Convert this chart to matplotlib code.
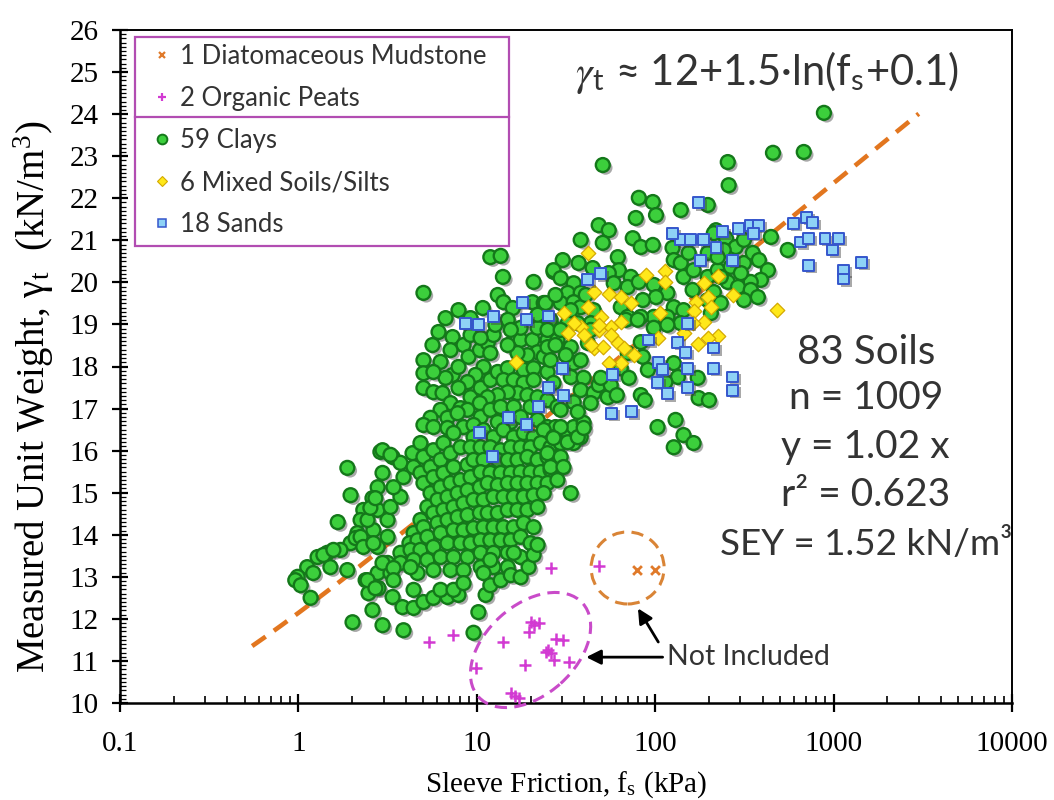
import numpy as np
import matplotlib
matplotlib.use("Agg")
import matplotlib.pyplot as plt
import matplotlib.patheffects as pe
from matplotlib.patches import Ellipse, Rectangle
from matplotlib.lines import Line2D
from matplotlib.ticker import FixedLocator, LogLocator, MultipleLocator, NullFormatter, FixedFormatter
from matplotlib.transforms import ScaledTranslation

plt.rcParams["mathtext.fontset"] = "stix"
SANS = ["Lato", "DejaVu Sans"]
SERIF = ["Liberation Serif", "DejaVu Serif"]

# ---- data: sleeve friction fs (kPa), unit weight (kN/m3)
clay_fs = [
    11.9, 13.6, 14.0, 20.8, 26.9, 5.02, 13.1, 14.1, 15.9, 20.5,
    23.7, 6.10, 7.31, 8.42, 5.02, 5.02, 5.02, 5.71, 6.42, 7.31,
    7.89, 8.98, 10.4, 11.5, 12.4, 11.9, 10.9, 9.83, 8.87, 7.89,
    7.12, 6.26, 5.50, 5.02, 6.85, 8.10, 9.22, 10.5, 11.9, 13.1,
    14.9, 14.1, 16.1, 17.6, 17.6, 20.5, 21.9, 19.2, 16.9, 18.3,
    20.8, 23.7, 24.9, 26.9, 21.9, 24.9, 18.3, 20.8, 16.9, 19.2,
    14.9, 13.1, 11.5, 10.4, 8.87, 7.80, 10.5, 11.9, 13.6, 16.1,
    20.0, 21.9, 24.9, 26.9, 5.71, 6.85, 8.42, 9.58, 13.1, 15.5,
    17.6, 21.9, 24.9, 28.3, 27.6, 1.88, 1.96, 1.66, 2.88, 3.37,
    2.96, 2.78, 2.60, 2.31, 2.23, 2.14, 1.96, 1.72, 1.45, 1.28,
    1.12, 0.99, 1.21, 1.51, 1.88, 2.78, 3.16, 2.63, 3.16, 2.78,
    3.28, 3.73, 3.41, 3.88, 3.73, 4.36, 4.83, 4.42, 5.02, 5.71,
    6.50, 7.40, 9.58, 10.9, 12.4, 14.1, 16.1, 18.3, 20.8, 23.7,
    26.9, 30.6, 34.9, 39.7, 38.2, 34.9, 4.83, 5.50, 6.26, 7.12,
    8.10, 9.22, 10.5, 11.9, 13.6, 15.5, 17.6, 20.0, 22.8, 25.9,
    29.5, 5.02, 5.71, 6.50, 7.40, 8.87, 9.58, 10.9, 13.1, 14.9,
    16.9, 19.2, 21.9, 24.9, 28.3, 5.50, 6.26, 7.12, 8.10, 9.22,
    10.5, 11.9, 13.6, 15.5, 17.6, 20.0, 22.8, 25.9, 29.5, 5.28,
    6.02, 6.85, 7.80, 8.87, 10.4, 11.5, 13.1, 14.9, 16.9, 19.2,
    21.9, 24.9, 28.3, 33.6, 4.83, 5.71, 6.50, 7.40, 8.42, 9.58,
    10.9, 12.4, 14.1, 16.1, 18.3, 20.8, 23.7, 4.42, 5.02, 6.02,
    6.85, 7.80, 8.87, 10.4, 11.5, 13.1, 14.9, 16.9, 19.2, 21.9,
    4.19, 4.65, 5.28, 6.26, 7.40, 8.42, 9.58, 10.9, 12.4, 14.1,
    16.1, 18.3, 20.8, 3.73, 4.25, 4.83, 5.71, 6.85, 8.10, 9.22,
    10.5, 11.9, 13.6, 15.5, 17.6, 20.0, 3.16, 3.73, 4.42, 5.28,
    6.26, 7.40, 8.87, 10.5, 12.4, 14.9, 17.6, 2.78, 3.28, 4.65,
    5.71, 7.12, 8.42, 10.5, 12.4, 14.9, 1.38, 2.09, 0.96, 1.03,
    1.17, 2.01, 2.60, 2.96, 3.88, 2.38, 2.47, 2.81, 3.37, 3.83,
    4.42, 5.02, 5.71, 6.85, 7.89, 9.58, 10.2, 11.2, 11.9, 13.6,
    15.5, 17.6, 16.1, 19.5, 20.8, 21.9, 11.9, 6.26, 7.40, 8.42,
    10.9, 4.42, 1.57, 2.23, 2.44, 2.53, 2.70, 2.96, 3.28, 2.31,
    2.63, 2.96, 3.41, 2.44, 2.70, 3.41, 4.25, 50.8, 80.9, 96.9,
    101, 77.8, 139, 48.2, 54.9, 74.8, 50.8, 38.2, 83.0, 96.9,
    61.7, 125, 127, 30.3, 26.9, 37.2, 44.6, 62.5, 72.9, 54.9,
    29.5, 34.9, 32.3, 38.2, 24.3, 29.5, 34.9, 58.5, 70.1, 80.9,
    98.1, 117, 139, 154, 144, 164, 197, 224, 219, 197,
    162, 101, 85.2, 64.1, 45.2, 38.2, 127, 144, 117, 98.1,
    83.0, 70.1, 25.9, 32.3, 43.5, 139, 24.9, 28.3, 24.9, 33.6,
    25.9, 34.9, 33.6, 39.7, 38.2, 45.2, 54.2, 48.2, 56.3, 34.9,
    29.5, 36.8, 43.5, 64.1, 71.1, 70.1, 85.2, 83.0, 98.1, 117,
    127, 134, 114, 173, 175, 200, 103, 130, 144, 164,
    127, 29.5, 26.9, 32.3, 36.8, 39.7, 24.9, 29.5, 25.9, 30.6,
    68.4, 79.8, 43.5, 41.9, 29.5, 36.8, 882, 457, 680, 255,
    258, 445, 553, 213, 249, 283, 314, 242, 197, 224,
    265, 314, 352, 381, 428, 391, 343, 302, 255, 291,
    343, 376, 213, 197, 233, 314, 205, 233,
    6.68, 7.89, 9.22, 10.8, 14.9, 21.9, 7.12, 6.26, 6.68, 5.71,
    9.22, 10.5, 14.9, 15.5, 12.7, 5.64, 27.6, 33.6, 40.8, 27.6,
    31.5, 38.2, 49.5, 60.9, 83.0, 90.9, 87.4,
]
clay_gamma = [
    20.60, 20.63, 20.13, 20.01, 20.25, 19.75, 19.70, 19.53, 19.39, 19.53,
    19.51, 18.82, 18.70, 18.51, 18.15, 17.84, 17.49, 17.39, 17.37, 17.80,
    17.99, 18.23, 18.39, 18.56, 18.75, 18.32, 17.99, 17.80, 17.63, 17.49,
    17.13, 16.97, 16.78, 16.61, 16.78, 17.01, 17.27, 17.49, 17.68, 17.87,
    17.96, 17.68, 17.68, 18.63, 18.92, 18.63, 18.34, 18.27, 18.32, 17.92,
    17.96, 18.23, 18.63, 18.92, 18.92, 17.87, 17.61, 17.68, 17.37, 17.32,
    17.39, 17.32, 17.27, 17.13, 16.97, 16.89, 16.80, 16.97, 17.04, 17.04,
    17.04, 17.27, 17.20, 17.61, 16.56, 16.54, 16.56, 16.61, 16.68, 16.68,
    16.80, 16.73, 16.56, 17.04, 16.56, 15.59, 14.94, 14.30, 15.97, 15.85,
    15.47, 15.13, 14.87, 14.59, 14.35, 14.04, 13.80, 13.64, 13.57, 13.47,
    13.23, 13.00, 13.09, 13.23, 13.16, 13.71, 13.95, 14.11, 14.35, 14.59,
    14.66, 14.90, 15.13, 15.37, 15.71, 15.94, 16.18, 15.61, 15.85, 16.01,
    16.18, 16.42, 16.32, 16.49, 16.32, 16.49, 16.32, 16.42, 16.32, 16.49,
    16.32, 16.42, 16.56, 16.66, 16.32, 16.18, 15.47, 15.61, 15.78, 15.94,
    16.08, 16.08, 16.08, 16.08, 16.01, 16.08, 16.08, 16.08, 16.18, 16.08,
    16.18, 15.23, 15.37, 15.47, 15.61, 15.66, 15.78, 15.78, 15.78, 15.78,
    15.78, 15.85, 15.78, 15.85, 15.85, 14.99, 15.13, 15.23, 15.30, 15.37,
    15.49, 15.47, 15.47, 15.47, 15.49, 15.49, 15.49, 15.54, 15.61, 14.66,
    14.83, 14.90, 14.99, 15.06, 15.13, 15.23, 15.18, 15.23, 15.23, 15.23,
    15.23, 15.23, 15.30, 14.99, 14.35, 14.52, 14.59, 14.66, 14.75, 14.83,
    14.83, 14.90, 14.90, 14.90, 14.90, 14.94, 14.99, 14.04, 14.18, 14.28,
    14.35, 14.42, 14.47, 14.52, 14.52, 14.52, 14.59, 14.59, 14.59, 14.66,
    13.80, 13.87, 13.95, 14.04, 14.11, 14.11, 14.16, 14.18, 14.18, 14.18,
    14.18, 14.28, 14.18, 13.57, 13.64, 13.64, 13.71, 13.80, 13.80, 13.80,
    13.87, 13.87, 13.87, 13.87, 13.95, 13.80, 13.33, 13.33, 13.40, 13.40,
    13.47, 13.47, 13.47, 13.57, 13.57, 13.57, 13.47, 13.09, 13.09, 13.09,
    13.16, 13.16, 13.16, 13.23, 13.23, 13.23, 13.52, 13.92, 12.92, 12.80,
    12.50, 11.92, 12.21, 11.85, 11.73, 12.92, 12.61, 12.73, 12.52, 12.28,
    12.26, 12.40, 12.50, 12.52, 12.57, 11.67, 12.16, 12.57, 12.80, 12.92,
    13.04, 12.99, 13.57, 13.23, 13.52, 13.76, 13.40, 12.69, 12.69, 12.85,
    13.09, 12.69, 13.64, 13.95, 14.35, 14.64, 14.87, 16.01, 15.90, 13.71,
    13.80, 13.33, 13.21, 12.92, 12.73, 12.92, 13.23, 22.79, 22.01, 21.91,
    21.60, 21.53, 21.72, 21.36, 21.24, 21.05, 20.94, 21.01, 20.84, 20.89,
    20.60, 20.82, 20.53, 20.53, 20.29, 20.46, 20.34, 20.29, 20.13, 20.22,
    20.10, 19.98, 19.75, 19.75, 19.51, 19.51, 19.53, 19.98, 19.89, 20.01,
    19.94, 19.75, 20.46, 20.70, 20.13, 20.29, 20.13, 20.29, 21.24, 21.84,
    19.82, 19.65, 19.58, 19.41, 19.34, 19.41, 19.41, 19.34, 19.18, 19.18,
    19.18, 19.18, 19.11, 19.03, 19.03, 19.03, 18.87, 18.63, 18.46, 18.46,
    18.15, 18.08, 17.75, 17.73, 17.44, 17.37, 17.27, 17.56, 17.56, 17.15,
    16.97, 16.92, 17.13, 17.96, 17.73, 18.32, 18.23, 18.58, 18.92, 18.99,
    18.08, 17.75, 17.63, 17.73, 17.25, 17.20, 16.56, 16.73, 16.37, 16.18,
    16.08, 16.56, 16.30, 16.20, 16.32, 16.54, 15.94, 15.85, 15.61, 15.61,
    19.11, 19.11, 18.87, 18.56, 18.87, 19.03, 24.03, 23.08, 23.10, 22.86,
    22.31, 21.08, 20.77, 21.17, 21.05, 20.84, 21.01, 20.77, 20.70, 20.60,
    20.37, 20.46, 20.70, 20.53, 20.29, 20.06, 20.01, 20.22, 20.01, 19.89,
    19.82, 19.65, 19.77, 19.58, 19.51, 19.58, 19.27, 20.13,
    19.15, 19.34, 19.15, 19.39, 19.11, 19.23, 18.39, 18.11, 17.73, 17.87,
    18.75, 18.68, 18.51, 18.87, 18.99, 18.51, 19.70, 19.34, 19.70, 18.51,
    18.27, 18.15, 17.73, 17.32, 17.32, 17.92, 17.20,
]

mixed_fs = [
    16.5, 41.9, 45.2, 54.9, 64.1, 72.9, 88.6, 114, 114, 187,
    224, 272, 481, 197, 169, 164, 205, 107, 187, 224,
    197, 173, 144, 30.6, 41.9, 49.5, 56.3, 38.2, 32.3, 39.7,
    48.2, 56.3, 61.7, 45.2, 50.8, 66.6, 75.7, 64.1, 54.9, 43.5,
    34.9, 64.1, 48.2, 162, 104,
]
mixed_gamma = [
    18.11, 20.70, 19.77, 19.72, 19.65, 19.51, 20.17, 20.27, 20.01, 19.98,
    20.15, 19.70, 19.34, 19.65, 19.53, 19.32, 19.41, 19.27, 19.06, 18.72,
    18.68, 18.53, 18.80, 19.27, 19.41, 19.18, 18.94, 18.94, 18.80, 18.75,
    18.87, 18.75, 18.56, 18.44, 18.46, 18.44, 18.27, 18.08, 18.08, 18.51,
    19.03, 19.06, 18.99, 19.03, 18.68,
]

sand_fs = [
    8.64, 10.2, 12.4, 18.1, 19.0, 25.2, 10.4, 12.3, 15.1, 19.0,
    22.2, 25.2, 30.3, 30.6, 57.8, 57.0, 73.8, 41.9, 49.5, 92.0,
    104, 110, 103, 117, 152, 152, 213, 213, 133, 148,
    152, 272, 272, 175, 139, 180, 187, 219, 239, 294,
    343, 381, 356, 272, 125, 158, 598, 707, 765, 655,
    726, 894, 1071, 991, 726, 1142, 1142, 1441,
]
sand_gamma = [
    19.03, 18.99, 19.18, 19.53, 19.11, 19.20, 16.42, 15.85, 16.78, 16.61,
    17.06, 17.49, 17.96, 17.30, 17.82, 16.89, 16.92, 20.06, 20.20, 18.63,
    18.10, 17.92, 17.63, 17.35, 17.96, 17.49, 17.96, 18.44, 18.58, 18.34,
    19.03, 17.75, 17.44, 21.89, 21.01, 20.53, 21.01, 20.84, 21.20, 21.29,
    21.36, 21.36, 21.17, 20.53, 21.17, 21.01, 21.41, 21.55, 21.43, 20.96,
    21.05, 21.05, 21.05, 20.77, 20.41, 20.29, 20.08, 20.48,
]

peat_fs = [25.9, 48.2, 5.36, 7.31, 14.1, 19.5, 20.8, 22.2, 20.0, 27.6,
           30.3, 24.9, 25.9, 26.9, 24.3, 32.7, 18.7, 9.83, 15.5, 17.2, 16.3]
peat_gamma = [13.21, 13.26, 11.45, 11.62, 11.45, 11.69, 11.85, 11.90, 11.92, 11.52,
              11.50, 11.26, 11.19, 11.02, 11.21, 10.97, 10.90, 10.83, 10.24, 10.12, 10.17]

mud_fs = [78.7, 100]
mud_gamma = [13.16, 13.16]

# fitted trend shown on the chart: gamma_t = 12 + 1.5 ln(fs + 0.1)
FIT_A, FIT_B, FIT_C = 12.0, 1.5, 0.1
FIT_RANGE = (0.55, 3000)

legend_labels = ["1 Diatomaceous Mudstone", "2 Organic Peats", "59 Clays",
                 "6 Mixed Soils/Silts", "18 Sands"]
stats_lines = ["83 Soils", "n = 1009", "y = 1.02 x", "r² = 0.623", "SEY = 1.52 kN/m³"]
xtick_vals = [0.1, 1, 10, 100, 1000, 10000]
xtick_text = ["0.1", "1", "10", "100", "1000", "10000"]

C_CLAY, E_CLAY = "#3ccf3c", "#14781a"
C_MIX, E_MIX = "#ffe81a", "#d4a900"
C_SAND, E_SAND = "#8ed2f6", "#3556cc"
C_PEAT = "#d23ad2"
C_MUD = "#e07a2a"
C_BOX = "#b24db2"
TXT = "#333333"

fig = plt.figure(figsize=(10.54, 8.0), dpi=100)
ax = fig.add_axes([0.1139, 0.12125, 0.8463, 0.84125])
ax.set_xscale("log")
ax.set_xlim(0.1, 10000)
ax.set_ylim(10, 26)

shadow = [pe.SimplePatchShadow(offset=(2, -2), shadow_rgbFace="0.25", alpha=0.45), pe.Normal()]

# trend line (under the markers)
fl = np.geomspace(*FIT_RANGE, 300)
ax.plot(fl, FIT_A + FIT_B * np.log(fl + FIT_C), color="#e2761f", lw=3.3,
        dashes=(3.6, 2.2), zorder=2, solid_capstyle="butt")

ax.scatter(clay_fs, clay_gamma, s=100, marker="o", fc=C_CLAY, ec=E_CLAY, lw=1.7,
           zorder=3, path_effects=shadow)
ax.scatter(mixed_fs, mixed_gamma, s=55, marker="D", fc=C_MIX, ec=E_MIX, lw=0.9, zorder=4)
ax.scatter(sand_fs, sand_gamma, s=62, marker="s", fc=C_SAND, ec=E_SAND, lw=1.4, zorder=4,
           path_effects=shadow)
ax.scatter(peat_fs, peat_gamma, s=80, marker="+", c=C_PEAT, lw=1.8, zorder=5)
ax.scatter(mud_fs, mud_gamma, s=40, marker="x", c=C_MUD, lw=2.0, zorder=5)

# dashed rings around the excluded soils
ring_tf = lambda x, y: fig.dpi_scale_trans + ScaledTranslation(x, y, ax.transData)
ax.add_patch(Ellipse((0, 0), 1.40, 0.90, angle=42, transform=ring_tf(20, 11.26),
                     fill=False, ec="#c94bc9", lw=2.2, ls=(0, (4, 2.4)), clip_on=False, zorder=6))
ax.add_patch(Ellipse((0, 0), 0.73, 0.72, transform=ring_tf(70, 13.21),
                     fill=False, ec="#d98436", lw=2.2, ls=(0, (4, 2.4)), clip_on=False, zorder=6))

ax.text(117, 11.09, "Not Included", fontsize=20.5, family=SANS, color=TXT, va="center", ha="left")
arrow = dict(arrowstyle="-|>", color="black", lw=2.0, mutation_scale=22, shrinkA=0, shrinkB=0)
ax.annotate("", xy=(41, 11.09), xytext=(110, 11.09), arrowprops=arrow)
ax.annotate("", xy=(80, 12.25), xytext=(104, 11.45), arrowprops=arrow)

# equation + stats
ax.text(0.94, 0.937, r"$\gamma_\mathregular{t}$ ≈ 12+1.5·ln(f$_\mathregular{s}$+0.1)",
        transform=ax.transAxes, ha="right", va="center", fontsize=30, family=SANS, color=TXT)
stats_size = [29, 28, 28, 28, 26.5]
for txt, yy, fs_ in zip(stats_lines, [0.5215, 0.453, 0.380, 0.309, 0.235], stats_size):
    ax.text(0.836, yy, txt, transform=ax.transAxes, ha="center", va="center",
            fontsize=fs_, family=SANS, color=TXT)

# legend: framed block split in two
handles = [
    Line2D([], [], ls="none", marker="x", ms=5, mec=C_MUD, mew=1.6),
    Line2D([], [], ls="none", marker="+", ms=6, mec=C_PEAT, mew=1.6),
    Line2D([], [], ls="none", marker="o", ms=7, mfc=C_CLAY, mec=E_CLAY, mew=1.4),
    Line2D([], [], ls="none", marker="D", ms=5.5, mfc=C_MIX, mec=E_MIX, mew=0.8),
    Line2D([], [], ls="none", marker="s", ms=6, mfc=C_SAND, mec=E_SAND, mew=1.1),
]
leg = ax.legend(handles, legend_labels, loc="upper left", bbox_to_anchor=(0.021, 1.0),
                frameon=False, handlelength=0.7, handletextpad=0.35, labelspacing=0.66,
                borderpad=0.05, prop={"family": SANS, "size": 18.5})
for t in leg.get_texts():
    t.set_color(TXT)
ax.add_patch(Rectangle((0.0168, 0.679), 0.4192, 0.3106, transform=ax.transAxes,
                       fill=False, ec=C_BOX, lw=1.6, zorder=7))
ax.plot([0.0168, 0.436], [0.8707, 0.8707], transform=ax.transAxes, color=C_BOX, lw=1.6, zorder=7)

# axes styling
ax.xaxis.set_major_locator(FixedLocator(xtick_vals))
ax.xaxis.set_major_formatter(FixedFormatter(xtick_text))
ax.xaxis.set_minor_locator(LogLocator(base=10, subs=np.arange(2, 10)))
ax.xaxis.set_minor_formatter(NullFormatter())
ax.yaxis.set_major_locator(MultipleLocator(1))
ax.yaxis.set_minor_locator(MultipleLocator(0.1))
ax.tick_params(axis="x", which="major", direction="inout", length=13, width=1.6, pad=14)
ax.tick_params(axis="x", which="minor", direction="in", length=5, width=1.2)
ax.tick_params(axis="y", which="major", direction="inout", length=11, width=1.6, pad=10)
ax.tick_params(axis="y", which="minor", direction="in", length=4, width=0.9)
for lab in ax.get_xticklabels() + ax.get_yticklabels():
    lab.set_family(SERIF)
    lab.set_fontsize(21)
for s in ax.spines.values():
    s.set_linewidth(1.4)
ax.spines["left"].set_linewidth(1.8)
ax.spines["bottom"].set_linewidth(1.8)

ax.set_xlabel(r"Sleeve Friction, f$_\mathregular{s}$ (kPa)", fontsize=21, family=SERIF)
ax.set_ylabel(r"Measured Unit Weight, γ$_\mathregular{t}$  (kN/m$^\mathregular{3}$)",
              fontsize=28, family=SERIF)
ax.xaxis.set_label_coords(0.5, -0.098)
ax.yaxis.set_label_coords(-0.072, 0.455)

fig.savefig("out.png", dpi=100)
